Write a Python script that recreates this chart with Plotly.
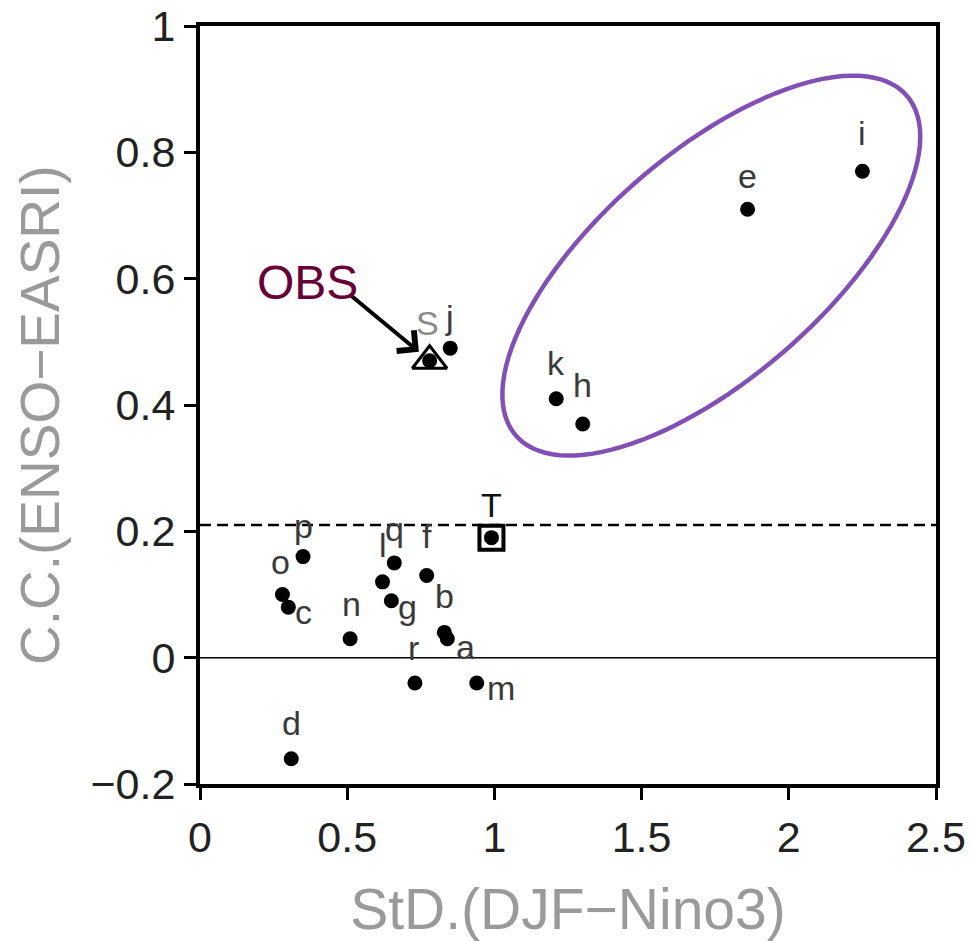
import numpy as np
import plotly.graph_objects as go

# ---------------- data ----------------
models = ['a', 'b', 'c', 'd', 'e', 'f', 'g', 'h', 'i', 'j', 'k', 'l', 'm', 'n', 'o', 'p', 'q', 'r']
std_nino3 = [0.84, 0.83, 0.30, 0.31, 1.86, 0.77, 0.65, 1.30, 2.25, 0.85, 1.21, 0.62, 0.94, 0.51, 0.28, 0.35, 0.66, 0.73]
cc_enso_easri = [0.03, 0.04, 0.08, -0.16, 0.71, 0.13, 0.09, 0.37, 0.77, 0.49, 0.41, 0.12, -0.04, 0.03, 0.10, 0.16, 0.15, -0.04]

obs_label = 'S'
obs_std = [0.78]
obs_cc = [0.47]

t_label = 'T'
t_std = [0.99]
t_cc = [0.19]

sig_level = 0.21
group_members = ['e', 'h', 'i', 'k']

x_ticks = [0, 0.5, 1, 1.5, 2, 2.5]
y_ticks = [-0.2, 0, 0.2, 0.4, 0.6, 0.8, 1]
x_range = [0, 2.5]
y_range = [-0.2, 1]
x_title = 'StD.(DJF\u2212Nino3)'
y_title = 'C.C.(ENSO\u2212EASRI)'

# ---------------- styles / layout ----------------
W, H = 971, 941
ML, MR, MT, MB = 200, 35, 26, 157
PW, PH = W - ML - MR, H - MT - MB
sx = PW / (x_range[1] - x_range[0])
sy = PH / (y_range[1] - y_range[0])

# label offsets (pixels: xshift, yshift)
label_offsets = {
    'a': (18, -8), 'b': (0, 36), 'c': (15, -5), 'd': (0, 36), 'e': (0, 33),
    'f': (0, 40), 'g': (16, -6), 'h': (0, 39), 'i': (0, 38), 'j': (-1, 31),
    'k': (0, 36), 'l': (0, 37), 'm': (24, -5), 'n': (1, 35), 'o': (-2, 33),
    'p': (0, 31), 'q': (0, 34), 'r': (-1, 35),
}
FONT = 'Liberation Sans, Arial, sans-serif'
label_font = dict(family=FONT, size=34, color='#3a3a3a')

fig = go.Figure()

# model points
fig.add_trace(go.Scatter(
    x=std_nino3, y=cc_enso_easri, mode='markers',
    marker=dict(size=15, color='black'), hoverinfo='text', text=models,
    showlegend=False))

# OBS (triangle + dot)
fig.add_trace(go.Scatter(
    x=obs_std, y=obs_cc, mode='markers',
    marker=dict(size=15, color='black'), showlegend=False))
fig.add_trace(go.Scatter(
    x=obs_std, y=obs_cc, mode='markers',
    marker=dict(symbol='triangle-up-open', size=30, color='black',
                line=dict(width=3, color='black')), showlegend=False))

# T (square + dot)
fig.add_trace(go.Scatter(
    x=t_std, y=t_cc, mode='markers',
    marker=dict(size=15, color='black'), showlegend=False))
fig.add_trace(go.Scatter(
    x=t_std, y=t_cc, mode='markers',
    marker=dict(symbol='square-open', size=24, color='black',
                line=dict(width=4, color='black')), showlegend=False))

# reference lines
fig.add_hline(y=sig_level, line=dict(color='black', width=2.5, dash='11px,6px'))
fig.add_hline(y=0, line=dict(color='black', width=1.5))

# ellipse around the high-correlation group
gx = [std_nino3[models.index(m)] for m in group_members]
gy = [cc_enso_easri[models.index(m)] for m in group_members]
cx = (min(gx) + max(gx)) / 2 + 2 / sx
cy = (min(gy) + max(gy)) / 2 + 32 / sy
a_px, b_px, theta = 259, 112.5, np.deg2rad(41)
t = np.linspace(0, 2 * np.pi, 120)
ex = cx + (a_px * np.cos(t) * np.cos(theta) - b_px * np.sin(t) * np.sin(theta)) / sx
ey = cy + (a_px * np.cos(t) * np.sin(theta) + b_px * np.sin(t) * np.cos(theta)) / sy
path = 'M ' + ' L '.join(f'{xx:.5f},{yy:.5f}' for xx, yy in zip(ex, ey)) + ' Z'
fig.add_shape(type='path', path=path, xref='x', yref='y',
              line=dict(color='#8250B4', width=4.5))

# point labels
for m, xv, yv in zip(models, std_nino3, cc_enso_easri):
    dx, dy = label_offsets[m]
    fig.add_annotation(x=xv, y=yv, text=m, showarrow=False, xshift=dx, yshift=dy,
                       font=label_font)
fig.add_annotation(x=obs_std[0], y=obs_cc[0], text=obs_label, showarrow=False,
                   xshift=-2, yshift=38,
                   font=dict(family=FONT, size=34, color='#8a8a8a'))
fig.add_annotation(x=t_std[0], y=t_cc[0], text=t_label, showarrow=False,
                   xshift=0, yshift=33,
                   font=dict(family=FONT, size=34, color='#111111'))

# OBS arrow + text
fig.add_annotation(x=obs_std[0], y=obs_cc[0], text=' ', showarrow=True,
                   ax=-82, ay=-68, arrowhead=4, arrowsize=1.3, arrowwidth=4,
                   arrowcolor='black', standoff=14)
fig.add_annotation(x=obs_std[0], y=obs_cc[0], text='OBS', showarrow=False,
                   xshift=-122, yshift=78,
                   font=dict(family=FONT, size=48, color='#680038'))

# y-axis title (placed as rotated text left of tick labels)
fig.add_annotation(x=0, y=0.5, xref='paper', yref='paper', text=y_title,
                   textangle=-90, showarrow=False, xanchor='center', yanchor='middle',
                   xshift=-160, yshift=-10,
                   font=dict(family=FONT, size=55, color='#9a9a9a'))

axis_common = dict(
    showgrid=False, zeroline=False, showline=True, linecolor='black', linewidth=4,
    mirror=True, ticks='outside', ticklen=12, tickwidth=3, tickcolor='black',
    automargin=False,
)
fig.update_xaxes(
    range=x_range, tickvals=x_ticks, **axis_common,
    tickfont=dict(family=FONT, size=43, color='#222222'),
    title=dict(text=x_title, standoff=32,
               font=dict(family=FONT, size=57, color='#9a9a9a')),
)
fig.update_yaxes(
    range=y_range, tickvals=y_ticks, **axis_common,
    tickfont=dict(family=FONT, size=43, color='#222222'),
)

fig.update_layout(
    width=W, height=H,
    margin=dict(l=ML, r=MR, t=MT, b=MB, autoexpand=False),
    paper_bgcolor='white', plot_bgcolor='white',
    showlegend=False,
)

fig.write_html('out.html', config={'displayModeBar': False},
               post_script="document.body.style.margin='0';document.body.style.overflow='hidden';")
